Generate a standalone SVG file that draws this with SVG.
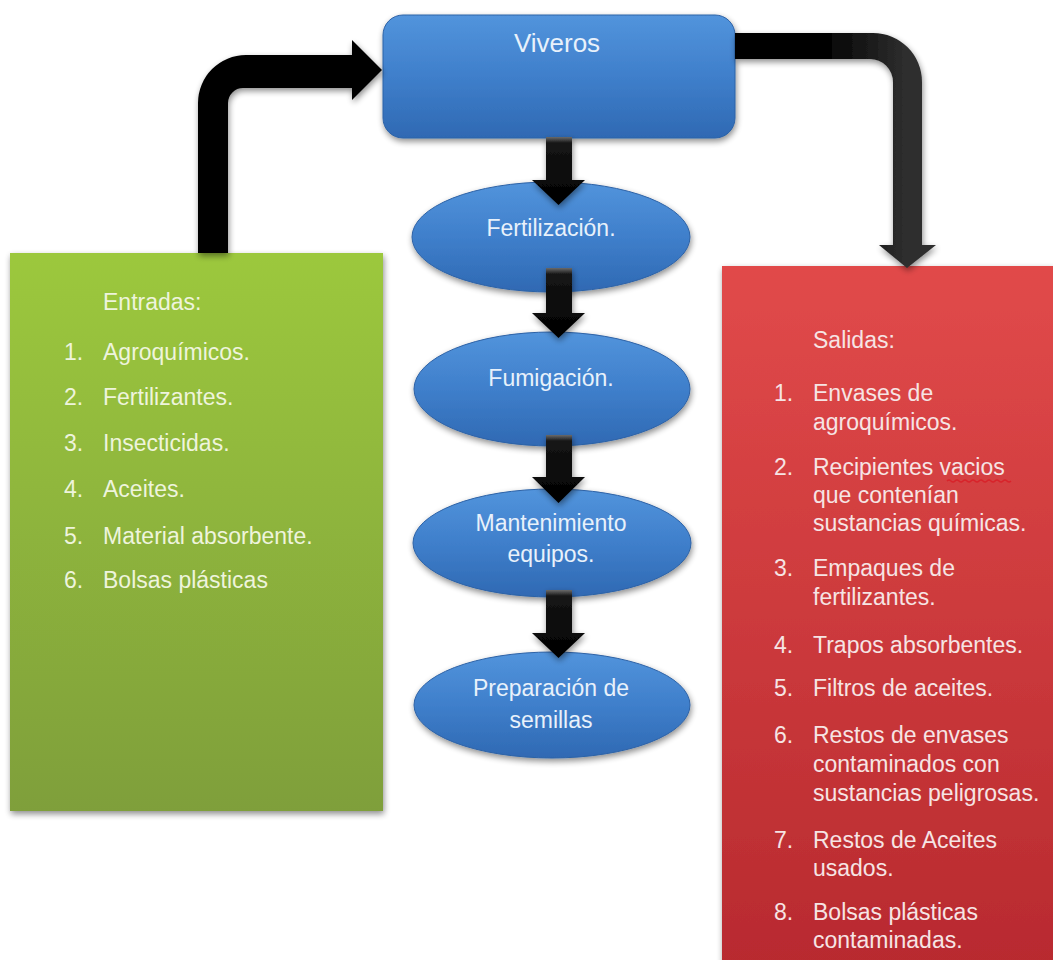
<svg xmlns="http://www.w3.org/2000/svg" width="1053" height="960" viewBox="0 0 1053 960">
  <defs>
    <linearGradient id="gBlue" x1="0" y1="0" x2="0" y2="1">
      <stop offset="0" stop-color="#5294dc"/>
      <stop offset="0.5" stop-color="#3f7fcb"/>
      <stop offset="1" stop-color="#2f69b3"/>
    </linearGradient>
    <linearGradient id="gGreen" x1="0" y1="0" x2="0" y2="1">
      <stop offset="0" stop-color="#9cc83e"/>
      <stop offset="1" stop-color="#7f9f3a"/>
    </linearGradient>
    <linearGradient id="gRed" x1="0" y1="0" x2="0" y2="1">
      <stop offset="0" stop-color="#e14a4a"/>
      <stop offset="1" stop-color="#b82a2f"/>
    </linearGradient>
    <linearGradient id="gDown" x1="0" y1="0" x2="0" y2="1">
      <stop offset="0" stop-color="#6a6a6a"/>
      <stop offset="0.09" stop-color="#151515"/>
      <stop offset="1" stop-color="#000"/>
    </linearGradient>
    <linearGradient id="gRight" gradientUnits="userSpaceOnUse" x1="820" y1="0" x2="905" y2="0">
      <stop offset="0" stop-color="#000"/>
      <stop offset="1" stop-color="#2e2e2e"/>
    </linearGradient>
    <filter id="shadow" x="-10%" y="-10%" width="120%" height="125%">
      <feGaussianBlur in="SourceAlpha" stdDeviation="3"/>
      <feOffset dx="1" dy="3" result="b"/>
      <feComponentTransfer><feFuncA type="linear" slope="0.45"/></feComponentTransfer>
      <feMerge><feMergeNode/><feMergeNode in="SourceGraphic"/></feMerge>
    </filter>
  </defs>
  <style>
    text { font-family: "Liberation Sans", Arial, sans-serif; font-size: 23px; }
    .blue { fill: url(#gBlue); stroke: #2d62a6; stroke-width: 1; filter: url(#shadow); }
    .onblue { fill: #e8f1fb; text-anchor: middle; }
    .ongreen { fill: #eef4dc; }
    .onred { fill: #f6e4e4; }
    .down { fill: url(#gDown); filter: url(#shadow); }
  </style>
  <rect width="1053" height="960" fill="#ffffff"/>

  <!-- Entradas (inputs) panel -->
  <g id="entradas">
    <rect x="10" y="253" width="373" height="558" fill="url(#gGreen)" filter="url(#shadow)"/>
    <text class="ongreen" x="103" y="310">Entradas:</text>
    <text class="ongreen" x="64" y="360">1.</text><text class="ongreen" x="103" y="360">Agroquímicos.</text>
    <text class="ongreen" x="64" y="405">2.</text><text class="ongreen" x="103" y="405">Fertilizantes.</text>
    <text class="ongreen" x="64" y="451">3.</text><text class="ongreen" x="103" y="451">Insecticidas.</text>
    <text class="ongreen" x="64" y="497">4.</text><text class="ongreen" x="103" y="497">Aceites.</text>
    <text class="ongreen" x="64" y="544">5.</text><text class="ongreen" x="103" y="544">Material absorbente.</text>
    <text class="ongreen" x="64" y="588">6.</text><text class="ongreen" x="103" y="588">Bolsas plásticas</text>
  </g>

  <!-- Salidas (outputs) panel -->
  <g id="salidas">
    <rect x="722" y="266" width="332" height="700" fill="url(#gRed)" filter="url(#shadow)"/>
    <text class="onred" x="813" y="348">Salidas:</text>
    <text class="onred" x="774" y="401">1.</text>
    <text class="onred" x="813" y="401">Envases de</text>
    <text class="onred" x="813" y="430">agroquímicos.</text>
    <text class="onred" x="774" y="475">2.</text>
    <text class="onred" x="813" y="475">Recipientes vacios</text>
    <path d="M947,481 q2,-2 4,0 t4,0 t4,0 t4,0 t4,0 t4,0 t4,0 t4,0 t4,0 t4,0 t4,0 t4,0 t4,0 t4,0 t4,0 t4,0" fill="none" stroke="#d8232a" stroke-width="1.5"/>
    <text class="onred" x="813" y="503">que contenían</text>
    <text class="onred" x="813" y="531">sustancias químicas.</text>
    <text class="onred" x="774" y="576">3.</text>
    <text class="onred" x="813" y="576">Empaques de</text>
    <text class="onred" x="813" y="605">fertilizantes.</text>
    <text class="onred" x="774" y="653">4.</text>
    <text class="onred" x="813" y="653">Trapos absorbentes.</text>
    <text class="onred" x="774" y="696">5.</text>
    <text class="onred" x="813" y="696">Filtros de aceites.</text>
    <text class="onred" x="774" y="743">6.</text>
    <text class="onred" x="813" y="743">Restos de envases</text>
    <text class="onred" x="813" y="772">contaminados con</text>
    <text class="onred" x="813" y="801">sustancias peligrosas.</text>
    <text class="onred" x="774" y="848">7.</text>
    <text class="onred" x="813" y="848">Restos de Aceites</text>
    <text class="onred" x="813" y="876">usados.</text>
    <text class="onred" x="774" y="920">8.</text>
    <text class="onred" x="813" y="920">Bolsas plásticas</text>
    <text class="onred" x="813" y="948">contaminadas.</text>
  </g>

  <!-- Viveros (main process) -->
  <g id="viveros">
    <rect class="blue" x="383" y="15" width="352" height="123" rx="20" ry="20"/>
    <text class="onblue" x="557" y="52" style="font-size:26px">Viveros</text>
  </g>

  <g id="fertilizacion">
    <ellipse class="blue" cx="551" cy="237" rx="139" ry="55"/>
    <text class="onblue" x="551" y="236">Fertilización.</text>
  </g>
  <g id="fumigacion">
    <ellipse class="blue" cx="552" cy="389" rx="138" ry="57"/>
    <text class="onblue" x="551" y="386">Fumigación.</text>
  </g>
  <g id="mantenimiento">
    <ellipse class="blue" cx="552" cy="543" rx="139" ry="54"/>
    <text class="onblue" x="551" y="531">Mantenimiento</text>
    <text class="onblue" x="551" y="562">equipos.</text>
  </g>
  <g id="preparacion">
    <ellipse class="blue" cx="552" cy="705" rx="138" ry="53"/>
    <text class="onblue" x="551" y="696">Preparación de</text>
    <text class="onblue" x="551" y="728">semillas</text>
  </g>

  <!-- Connectors -->
  <g id="connectors">
    <!-- Entradas up and over into Viveros -->
    <path d="M198,253 L198,103 A48,48 0 0 1 246,55 L352,55 L352,40 L382,70 L352,100 L352,88 L243,88 A15,15 0 0 0 228,103 L228,253 Z" fill="#050505" filter="url(#shadow)"/>
    <!-- Viveros over and down into Salidas -->
    <path d="M735,33 L873,33 A49,49 0 0 1 922,82 L922,245 L936,245 L907,268 L879,245 L893,245 L893,82 A23,23 0 0 0 870,59 L735,59 Z" fill="url(#gRight)" filter="url(#shadow)"/>
    <!-- Process chain -->
    <path class="down" d="M546,137 L572,137 L572,180 L585,180 L558.5,205 L532,180 L546,180 Z"/>
    <path class="down" d="M546,268 L572,268 L572,313 L585,313 L558.5,338 L532,313 L546,313 Z"/>
    <path class="down" d="M546,435 L572,435 L572,477 L585,477 L558.5,503 L532,477 L546,477 Z"/>
    <path class="down" d="M546,590 L572,590 L572,633 L585,633 L558.5,658 L532,633 L546,633 Z"/>
  </g>
</svg>
